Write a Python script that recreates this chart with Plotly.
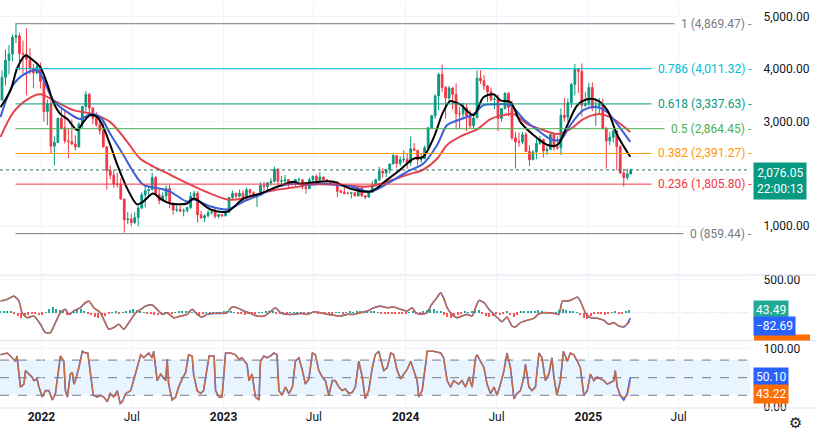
import pandas as pd
import plotly.graph_objects as go

START = "2021-10-11"

# ---- weekly ETH candles (week starting Monday) ----
first_open = 3410
week_high = [3970, 4375, 4460, 4665, 4869, 4700, 4550, 4780, 4400, 4100, 4130, 4130,
             3850, 3420, 3400, 2720, 3080, 3280, 3200, 2870, 3040, 2740, 2990, 3300,
             3580, 3550, 3270, 3180, 3030, 3000, 2530, 2160, 2080, 2020, 1920, 1520,
             1270, 1240, 1270, 1390, 1650, 1780, 1750, 2020, 1960, 1720, 1650, 1780,
             1790, 1450, 1400, 1400, 1340, 1370, 1650, 1680, 1670, 1300, 1230, 1310,
             1300, 1350, 1230, 1230,
             1290, 1560, 1680, 1640, 1700, 1680, 1740, 1720, 1670, 1600, 1840, 1850,
             1840, 1920, 2140, 2110, 1960, 1980, 1900, 1860, 1910, 1930, 1890, 1780,
             1930, 1970, 1990, 2030, 1950, 1900, 1870, 1870, 1850, 1700, 1750, 1660,
             1660, 1660, 1750, 1750, 1600, 1670, 1860, 1910, 2140, 2110, 2100, 2200,
             2400, 2360, 2340, 2450,
             2400, 2720, 2590, 2460, 2400, 2540, 2900, 3130, 3520, 3930, 4090, 3680,
             3680, 3660, 3730, 3290, 3360, 3350, 3220, 3120, 3980, 3980, 3890, 3700,
             3650, 3480, 3520, 3260, 3560, 3560, 3400, 2800, 2790, 2800, 2800, 2550,
             2460, 2670, 2730, 2670, 2520, 2770, 2770, 2720, 3250, 3450, 3440, 3740,
             4100, 4010, 4110, 3560, 3740,
             3750, 3450, 3450, 3440, 2900, 2800, 2850, 2830, 2550, 2100, 2100, 2100]
week_low = [3400, 3690, 3900, 4150, 4500, 3980, 3920, 3500, 3900, 3640, 3900, 3630,
            3000, 2930, 2400, 2160, 2600, 2850, 2580, 2300, 2560, 2450, 2500, 2880,
            3200, 3150, 2950, 2900, 2750, 2500, 1700, 1900, 1730, 1740, 1510, 880,
            1040, 1000, 1040, 1000, 1330, 1360, 1560, 1690, 1600, 1420, 1480, 1500,
            1350, 1220, 1270, 1270, 1190, 1260, 1330, 1510, 1070, 1150, 1080, 1170,
            1220, 1150, 1150, 1180,
            1190, 1260, 1500, 1530, 1550, 1450, 1500, 1580, 1540, 1370, 1580, 1680,
            1660, 1780, 1840, 1800, 1800, 1800, 1740, 1780, 1760, 1850, 1700, 1620,
            1710, 1820, 1840, 1860, 1870, 1840, 1810, 1820, 1560, 1640, 1610, 1610,
            1530, 1580, 1570, 1570, 1520, 1540, 1640, 1760, 1860, 1930, 1940, 2010,
            2190, 2120, 2150, 2210,
            2100, 2160, 2440, 2160, 2210, 2290, 2480, 2880, 3050, 3220, 3570, 3060,
            3380, 3230, 2850, 2860, 3070, 2820, 2870, 2860, 3070, 3720, 3600, 3370,
            3380, 3240, 2820, 3000, 3230, 3100, 2650, 2100, 2520, 2570, 2420, 2150,
            2270, 2280, 2560, 2310, 2360, 2470, 2440, 2460, 2360, 3000, 3000, 3260,
            3500, 3550, 3100, 3280, 3300,
            3200, 2920, 3150, 2850, 2100, 2550, 2600, 2070, 2000, 1760, 1890, 1990]
week_close = [3845, 4170, 4290, 4610, 4640, 4300, 4290, 4190, 4020, 3930, 4050, 3770,
              3190, 3340, 2530, 2600, 3060, 2880, 2630, 2620, 2570, 2520, 2950, 3290,
              3520, 3260, 3060, 2940, 2830, 2520, 2060, 1975, 1810, 1800, 1520, 1125,
              1140, 1070, 1170, 1350, 1600, 1680, 1700, 1930, 1610, 1490, 1580, 1720,
              1440, 1310, 1320, 1290, 1300, 1360, 1570, 1630, 1220, 1160, 1200, 1260,
              1270, 1190, 1220, 1200,
              1265, 1550, 1630, 1575, 1630, 1515, 1700, 1640, 1560, 1590, 1780, 1760,
              1830, 1860, 2090, 1860, 1870, 1890, 1800, 1810, 1890, 1890, 1750, 1720,
              1890, 1955, 1870, 1940, 1890, 1860, 1830, 1850, 1670, 1650, 1630, 1630,
              1640, 1580, 1730, 1580, 1560, 1650, 1780, 1890, 2050, 2020, 2080, 2190,
              2350, 2200, 2270, 2280,
              2220, 2480, 2450, 2270, 2290, 2500, 2880, 3110, 3490, 3900, 3650, 3450,
              3640, 3520, 3150, 3150, 3260, 3110, 2920, 3070, 3830, 3780, 3680, 3570,
              3420, 3430, 3060, 3250, 3540, 3270, 2690, 2610, 2610, 2750, 2430, 2270,
              2420, 2580, 2660, 2440, 2470, 2750, 2510, 2500, 3120, 3080, 3360, 3710,
              4000, 3960, 3310, 3340, 3650,
              3270, 3300, 3320, 2870, 2630, 2700, 2820, 2520, 2020, 1930, 2000, 2076.05]

# ---- moving averages (date, price) ----
ma_black_dates = ["2021-10-11", "2021-10-31", "2021-11-14", "2021-11-30", "2021-12-16", "2021-12-30",
                  "2022-01-13", "2022-01-25", "2022-02-08", "2022-02-22", "2022-03-14", "2022-03-26",
                  "2022-04-09", "2022-04-23", "2022-05-05", "2022-05-19", "2022-06-02", "2022-06-22",
                  "2022-07-12", "2022-07-24", "2022-08-13", "2022-08-27", "2022-09-16", "2022-10-20",
                  "2022-11-02", "2022-12-06", "2023-01-09", "2023-02-10", "2023-03-16", "2023-04-19",
                  "2023-05-21", "2023-06-04", "2023-07-14", "2023-08-09", "2023-09-12", "2023-10-22",
                  "2023-11-25", "2023-12-21", "2024-01-16", "2024-02-05", "2024-02-25", "2024-03-16",
                  "2024-03-30", "2024-04-09", "2024-04-19", "2024-05-16", "2024-06-05", "2024-06-25",
                  "2024-07-09", "2024-07-29", "2024-08-18", "2024-09-13", "2024-10-11", "2024-10-31",
                  "2024-11-20", "2024-12-10", "2024-12-30", "2025-01-19", "2025-02-08", "2025-02-28",
                  "2025-03-26"]
ma_black = [3275, 3597, 4033, 4261, 4166, 4033, 3711, 3369, 3142, 3047, 2839, 2990,
            3123, 3085, 2895, 2554, 2175, 1720, 1417, 1473, 1625, 1530, 1436, 1436,
            1530, 1322, 1284, 1530, 1625, 1758, 1853, 1815, 1853, 1853, 1720, 1663,
            1891, 2080, 2289, 2327, 2668, 3180, 3390, 3369, 3332, 3123, 3464, 3521,
            3407, 3369, 2990, 2744, 2554, 2554, 2933, 3313, 3426, 3407, 3218, 2744,
            2327]
ma_blue_dates = ["2021-10-11", "2021-11-06", "2021-12-04", "2021-12-24", "2022-01-05", "2022-01-25",
                 "2022-02-22", "2022-03-20", "2022-04-09", "2022-04-29", "2022-05-19", "2022-06-14",
                 "2022-07-04", "2022-07-24", "2022-08-27", "2022-09-16", "2022-10-20", "2022-11-02",
                 "2022-12-06", "2023-01-09", "2023-02-10", "2023-03-16", "2023-04-19", "2023-05-21",
                 "2023-06-24", "2023-07-14", "2023-09-12", "2023-10-22", "2023-11-25", "2024-01-04",
                 "2024-02-05", "2024-03-04", "2024-03-24", "2024-04-13", "2024-05-16", "2024-06-05",
                 "2024-07-03", "2024-07-29", "2024-08-24", "2024-09-21", "2024-10-17", "2024-11-06",
                 "2024-11-26", "2024-12-22", "2025-01-19", "2025-02-08", "2025-02-28", "2025-03-26"]
ma_blue = [3085, 3711, 3938, 3976, 3806, 3407, 3180, 3047, 3142, 3085, 2763, 2365,
           2042, 1796, 1720, 1663, 1473, 1511, 1379, 1322, 1473, 1606, 1758, 1815,
           1796, 1815, 1758, 1663, 1815, 2042, 2194, 2554, 2933, 3020, 3142, 3313,
           3332, 3313, 3047, 2839, 2668, 2649, 2933, 3218, 3275, 3180, 2952, 2611]
ma_red_dates = ["2021-10-11", "2021-11-06", "2021-12-04", "2021-12-30", "2022-01-25", "2022-03-06",
                "2022-04-15", "2022-05-19", "2022-06-22", "2022-07-18", "2022-08-07", "2022-09-16",
                "2022-10-26", "2022-12-06", "2023-01-09", "2023-02-10", "2023-03-16", "2023-04-19",
                "2023-05-21", "2023-06-24", "2023-08-09", "2023-10-16", "2023-11-25", "2024-01-04",
                "2024-02-05", "2024-03-04", "2024-03-24", "2024-04-26", "2024-05-24", "2024-06-19",
                "2024-07-15", "2024-08-04", "2024-09-01", "2024-09-27", "2024-10-31", "2024-11-26",
                "2024-12-22", "2025-01-19", "2025-02-14", "2025-03-26"]
ma_red = [2706, 3180, 3426, 3521, 3407, 3218, 3142, 2990, 2611, 2289, 2175, 1985,
          1796, 1625, 1511, 1530, 1625, 1701, 1739, 1796, 1796, 1758, 1853, 1985,
          2080, 2289, 2554, 2744, 2857, 3047, 3123, 3142, 2952, 2857, 2763, 2857,
          3047, 3142, 3085, 2801]

# ---- Fibonacci retracement ----
fib_ratio = ["1", "0.786", "0.618", "0.5", "0.382", "0.236", "0"]
fib_price = [4869.47, 4011.32, 3337.63, 2864.45, 2391.27, 1805.80, 859.44]
fib_color = ["#787b86", "#00bcd4", "#089981", "#4caf50", "#ff9800", "#f23645", "#787b86"]
fib_start = "2021-11-10"
last_price = 2076.05
countdown = "22:00:13"

# ---- MACD panel (day offset from START, value) ----
macd_pts = [(0, 177), (13, 202), (27, 253), (37, 177), (43, 0), (53, -76), (67, -51), (80, -177),
            (90, -303), (100, -303), (110, -152), (120, 0), (130, 51), (137, -25), (147, 25),
            (160, 76), (170, 152), (177, 177), (187, 76), (200, 0), (210, -152), (217, -253),
            (227, -227), (237, -177), (247, -253), (257, -152), (271, 0), (281, 51), (291, 101),
            (304, 116), (314, 51), (324, -25), (334, 0), (347, -76), (361, -51), (374, -25),
            (384, 51), (394, -25), (404, -66), (414, -25), (428, -10), (444, -10), (454, 0),
            (464, 86), (474, 76), (488, 25), (501, -10), (514, -51), (528, -51), (541, 15),
            (551, 76), (561, 0), (574, -25), (588, -25), (601, -10), (615, -25), (628, 15),
            (641, 0), (655, -25), (668, -40), (681, -51), (695, -25), (708, -25), (721, 0),
            (735, 25), (748, 76), (761, 101), (775, 76), (788, 86), (802, 51), (815, 25),
            (825, 76), (832, 0), (842, -25), (855, 0), (862, 101), (872, 202), (882, 303),
            (888, 227), (895, 76), (905, -25), (915, -76), (925, -51), (935, -25), (945, -51),
            (952, 76), (959, 187), (969, 152), (979, 51), (989, -25), (999, -101), (1005, -136),
            (1015, -66), (1025, -202), (1032, -217), (1042, -152), (1055, -116), (1069, -86),
            (1079, -15), (1089, 0), (1099, 0), (1109, -10), (1119, -25), (1126, 177), (1136, 177),
            (1146, 202), (1156, 237), (1162, 177), (1172, 0), (1182, -76), (1196, -86),
            (1209, -116), (1219, -177), (1229, -152), (1239, -202), (1249, -217), (1256, -170),
            (1262, -82.69)]
signal_tail = [(1249, -205), (1256, -180), (1262, -126.18)]
hist_vals = [20, 25, 30, 15, -20, -50, -80, -60, -30, -10, -20, -40, -30, 10, 50, 80, 60, 40, 20,
             -30, -40, 10, 40, 50, 30, -10, -40, -60, -80, -70, -50, -20, 10, 20, -10, 10, 30, 40,
             50, 40, 20, 10, -10, -20, -30, -40, -20, 10, -15, -10, 10, 15, 20, 30, 20, 10, -20,
             -30, -15, 10, 5, -5, 5, 10, 20, 25, 30, 10, -10, -20, -30, -20, -10, -15, 5, 10, 20,
             25, 30, -10, -20, -15, -5, 5, 10, 5, -5, -10, 5, 10, 5, -5, -10, -15, -10, -5, 5, 10,
             -5, 10, 15, 10, 15, 20, 25, 30, 30, 20, 10, -10, -15, -5, -10, -20, -25, -15, -5, 10,
             20, -15, -10, 20, 40, 60, 50, 30, 20, -30, -60, -80, -60, -30, -10, 15, 10, 20, 50,
             40, -20, -50, -70, -50, -20, -40, -10, 30, -40, -60, -30, 20, 30, 20, 15, 30, 40, 25,
             10, -10, -15, 5, 40, 60, 40, 20, 15, 10, -40, -80, -90, -50, -20, -10, -20, -30, -25,
             10, 20, -10, -15, 20, 43.49]

# ---- Stochastic RSI panel (day offset from START, value) ----
stoch_pts = [(0, 89), (13, 92), (20, 87), (30, 78), (33, 87), (40, 34), (47, 39), (50, 62), (57, 56),
             (63, 51), (67, 45), (73, 48), (77, 34), (84, 17), (90, 28), (97, 28), (104, 12),
             (110, 23), (117, 67), (120, 87), (127, 78), (130, 28), (134, 17), (140, 56), (144, 59),
             (147, 39), (150, 45), (157, 67), (164, 95), (170, 92), (175, 92), (180, 56), (186, 20),
             (194, 17), (200, 20), (207, 17), (214, 9), (220, 23), (227, 17), (234, 28), (240, 6),
             (244, 9), (251, 23), (261, 28), (267, 45), (274, 67), (281, 89), (287, 84), (297, 92),
             (304, 84), (307, 95), (314, 45), (321, 56), (331, 45), (334, 81), (337, 39), (344, 12),
             (351, 17), (357, 34), (364, 48), (371, 59), (377, 89), (384, 87), (387, 56), (394, 28),
             (401, 23), (407, 28), (418, 87), (428, 87), (431, 28), (438, 17), (444, 17), (451, 92),
             (461, 92), (471, 89), (478, 81), (484, 84), (494, 73), (498, 45), (504, 56), (511, 17),
             (518, 12), (521, 78), (528, 87), (534, 84), (541, 87), (548, 92), (554, 89), (558, 28),
             (564, 20), (571, 34), (578, 23), (585, 34), (591, 78), (598, 84), (605, 62), (611, 39),
             (618, 48), (625, 92), (631, 89), (638, 62), (645, 51), (651, 45), (658, 20), (665, 45),
             (671, 45), (678, 34), (685, 28), (691, 31), (698, 23), (705, 25), (711, 34), (718, 78),
             (725, 51), (731, 14), (738, 28), (745, 67), (751, 89), (758, 95), (768, 62), (775, 67),
             (782, 92), (788, 89), (795, 62), (802, 48), (808, 56), (815, 64), (822, 78), (828, 64),
             (835, 45), (838, 17), (845, 28), (852, 73), (855, 95), (868, 95), (882, 92), (888, 84),
             (895, 45), (902, 34), (908, 45), (918, 39), (925, 45), (932, 34), (939, 51), (945, 34),
             (952, 84), (955, 89), (962, 78), (969, 67), (975, 39), (982, 23), (989, 34), (995, 20),
             (1002, 39), (1009, 62), (1015, 92), (1022, 67), (1029, 14), (1035, 23), (1042, 28),
             (1049, 51), (1052, 73), (1059, 34), (1065, 28), (1072, 34), (1079, 92), (1085, 84),
             (1092, 45), (1099, 56), (1105, 84), (1109, 51), (1115, 20), (1122, 45), (1128, 95),
             (1136, 78), (1142, 92), (1149, 89), (1156, 78), (1162, 67), (1169, 20), (1176, 28),
             (1182, 56), (1189, 45), (1196, 51), (1202, 48), (1209, 45), (1216, 39), (1222, 42),
             (1229, 45), (1232, 62), (1236, 34), (1242, 20), (1249, 12), (1256, 23), (1262, 50.10)]
stoch_d_tail = [(1249, 16), (1256, 19), (1262, 43.22)]

# axis ticks
tick_dates = ["2022-01-01", "2022-07-01", "2023-01-01", "2023-07-01",
              "2024-01-01", "2024-07-01", "2025-01-01", "2025-07-01"]
tick_text = ["<b>2022</b>", "Jul", "<b>2023</b>", "Jul", "<b>2024</b>", "Jul", "<b>2025</b>", "Jul"]
price_ticks = [1000, 2000, 3000, 4000, 5000]
price_tick_text = ["1,000.00", "", "3,000.00", "4,000.00", "5,000.00"]   # 2,000 sits under the price tag
macd_ticks = [0, 500]
macd_tick_text = ["", "500.00"]                                          # 0 sits under the value tag

# ------------------------------------------------------------------
t0 = pd.Timestamp(START)
def to_dates(days):
    return [t0 + pd.Timedelta(days=d) for d in days]

week_x = pd.date_range(START, periods=len(week_close), freq="7D") + pd.Timedelta(days=3)
week_open = [first_open] + week_close[:-1]
hi = [max(h, o, c) for h, o, c in zip(week_high, week_open, week_close)]
lo = [min(l, o, c) for l, o, c in zip(week_low, week_open, week_close)]

FONT = "Roboto, Arial, sans-serif"
TXT = "#131722"
GRID = "#f0f3fa"
UP, DOWN = "#089981", "#f23645"

fig = go.Figure()

fig.add_trace(go.Candlestick(
    x=week_x, open=week_open, high=hi, low=lo, close=week_close,
    increasing=dict(line=dict(color=UP, width=1), fillcolor=UP),
    decreasing=dict(line=dict(color=DOWN, width=1), fillcolor=DOWN),
    whiskerwidth=0, xaxis="x", yaxis="y", showlegend=False, hoverinfo="skip"))

for dates, vals, col in [(ma_red_dates, ma_red, "#e5434f"),
                         (ma_blue_dates, ma_blue, "#3a5fd8"),
                         (ma_black_dates, ma_black, "#000000")]:
    fig.add_trace(go.Scatter(x=dates, y=vals, mode="lines",
                             line=dict(color=col, width=2, shape="spline", smoothing=0.9),
                             xaxis="x", yaxis="y", showlegend=False, hoverinfo="skip"))

# MACD
m_days = [p[0] for p in macd_pts]
m_vals = [p[1] for p in macd_pts]
s_pts = macd_pts[:-3] + signal_tail
hist_days = list(range(0, 7 * len(hist_vals), 7))
fig.add_trace(go.Bar(x=to_dates(hist_days), y=hist_vals,
                     marker=dict(color=["#26a69a" if v >= 0 else "#ff5252" for v in hist_vals],
                                 line=dict(width=0)),
                     width=2.5 * 86400000, xaxis="x", yaxis="y2", showlegend=False, hoverinfo="skip"))
fig.add_trace(go.Scatter(x=to_dates(m_days), y=m_vals, mode="lines",
                         line=dict(color="#2962ff", width=1.6, shape="spline", smoothing=0.6),
                         xaxis="x", yaxis="y2", showlegend=False, hoverinfo="skip"))
fig.add_trace(go.Scatter(x=to_dates([p[0] for p in s_pts]), y=[p[1] for p in s_pts], mode="lines",
                         line=dict(color="#ff6d00", width=1.4, shape="spline", smoothing=0.6),
                         opacity=0.75, xaxis="x", yaxis="y2", showlegend=False, hoverinfo="skip"))

# Stoch RSI
k_days = [p[0] for p in stoch_pts]
k_vals = [p[1] for p in stoch_pts]
d_pts = stoch_pts[:-3] + stoch_d_tail
fig.add_trace(go.Scatter(x=to_dates(k_days), y=k_vals, mode="lines",
                         line=dict(color="#2962ff", width=1.6),
                         xaxis="x", yaxis="y3", showlegend=False, hoverinfo="skip"))
fig.add_trace(go.Scatter(x=to_dates([p[0] for p in d_pts]), y=[p[1] for p in d_pts], mode="lines",
                         line=dict(color="#ff6d00", width=1.4), opacity=0.75,
                         xaxis="x", yaxis="y3", showlegend=False, hoverinfo="skip"))

# domains (plot area 408 px tall)
H = 408.0
def py(px):
    return (H - px) / H

shapes = []
annotations = []

# fib lines + labels
for r, p, c in zip(fib_ratio, fib_price, fib_color):
    shapes.append(dict(type="line", xref="x", yref="y", x0=fib_start, x1="2025-11-21",
                       y0=p, y1=p, line=dict(color=c, width=1), layer="above"))
    annotations.append(dict(xref="paper", yref="y", x=1.0, y=p, xanchor="right", yanchor="middle",
                            xshift=3, text=f"  {r} ({p:,.2f}) -", showarrow=False,
                            bgcolor="white", borderpad=0,
                            font=dict(family=FONT, size=12, color=c)))

# current price dotted line and label
shapes.append(dict(type="line", xref="paper", yref="y", x0=0, x1=1, y0=last_price, y1=last_price,
                   line=dict(color="#2f6f62", width=1, dash="dot"), layer="above"))
annotations.append(dict(xref="paper", yref="y", x=1.0, y=last_price, xanchor="left", yanchor="top",
                        xshift=3, yshift=8, text=f"{last_price:,.2f}<br>{countdown}", showarrow=False,
                        bgcolor=UP, borderpad=3, align="center",
                        font=dict(family=FONT, size=12, color="white")))

# MACD zero line
shapes.append(dict(type="line", xref="paper", yref="y2", x0=0, x1=1, y0=0, y1=0,
                   line=dict(color="rgba(120,123,134,0.6)", width=1, dash="dash"), layer="below"))
# Stoch band
shapes.append(dict(type="rect", xref="paper", yref="y3", x0=0, x1=1, y0=20, y1=80,
                   fillcolor="rgba(33,150,243,0.1)", line=dict(width=0), layer="below"))
for lvl in (80, 50, 20):
    shapes.append(dict(type="line", xref="paper", yref="y3", x0=0, x1=1, y0=lvl, y1=lvl,
                       line=dict(color="#787b86", width=1, dash="dash"), layer="below"))

# pane separators
for sep in (274, 340, 408):
    shapes.append(dict(type="line", xref="paper", yref="paper", x0=0, x1=1.1, y0=py(sep), y1=py(sep),
                       line=dict(color="#e0e3eb", width=1), layer="above"))

# indicator value boxes
shapes.append(dict(type="rect", xref="paper", yref="paper", x0=754 / 750, x1=810 / 750,
                   y0=py(340), y1=py(334), fillcolor="#ff6d00", line=dict(width=0), layer="above"))
for txt, ypx, col in [("43.49", 309, "#22ab94"), ("\u221282.69", 325.5, "#2962ff"),
                      ("50.10", 377, "#2962ff"), ("43.22", 394, "#ff6d00")]:
    annotations.append(dict(xref="paper", yref="paper", x=1.0, y=py(ypx), xanchor="left",
                            yanchor="middle", xshift=3, text=txt, showarrow=False, bgcolor=col,
                            borderpad=2, font=dict(family=FONT, size=12, color="white")))

annotations.append(dict(xref="paper", yref="paper", x=1.0, y=py(423), xanchor="left", yanchor="middle",
                        xshift=37, text="\u2699", showarrow=False,
                        font=dict(family="DejaVu Sans", size=15, color=TXT)))

yax_common = dict(side="right", anchor="x", showline=False, zeroline=False, ticks="outside",
                  ticklen=10, tickcolor="rgba(0,0,0,0)", gridcolor=GRID,
                  tickfont=dict(family=FONT, size=12, color=TXT), fixedrange=True)

fig.update_layout(
    width=816, height=436, margin=dict(l=0, r=66, t=0, b=28),
    paper_bgcolor="white", plot_bgcolor="white", showlegend=False, bargap=0,
    font=dict(family=FONT, color=TXT),
    xaxis=dict(type="date", range=["2021-10-10", "2025-11-21"], anchor="y3",
               tickvals=tick_dates, ticktext=tick_text, showgrid=True, gridcolor=GRID,
               tickfont=dict(family=FONT, size=12, color=TXT), ticks="", showline=False,
               zeroline=False, rangeslider=dict(visible=False)),
    yaxis=dict(domain=[py(274), 1], range=[70, 5265], tickvals=price_ticks,
               ticktext=price_tick_text, **yax_common),
    yaxis2=dict(domain=[py(340), py(275)], range=[-424, 560], tickvals=macd_ticks,
                ticktext=macd_tick_text, **yax_common),
    yaxis3=dict(domain=[0, py(341)], range=[-1.7, 111.7], tickvals=[0, 100],
                ticktext=["0.00", "100.00"], **yax_common),
    shapes=shapes, annotations=annotations,
)

fig.write_html("out.html")
